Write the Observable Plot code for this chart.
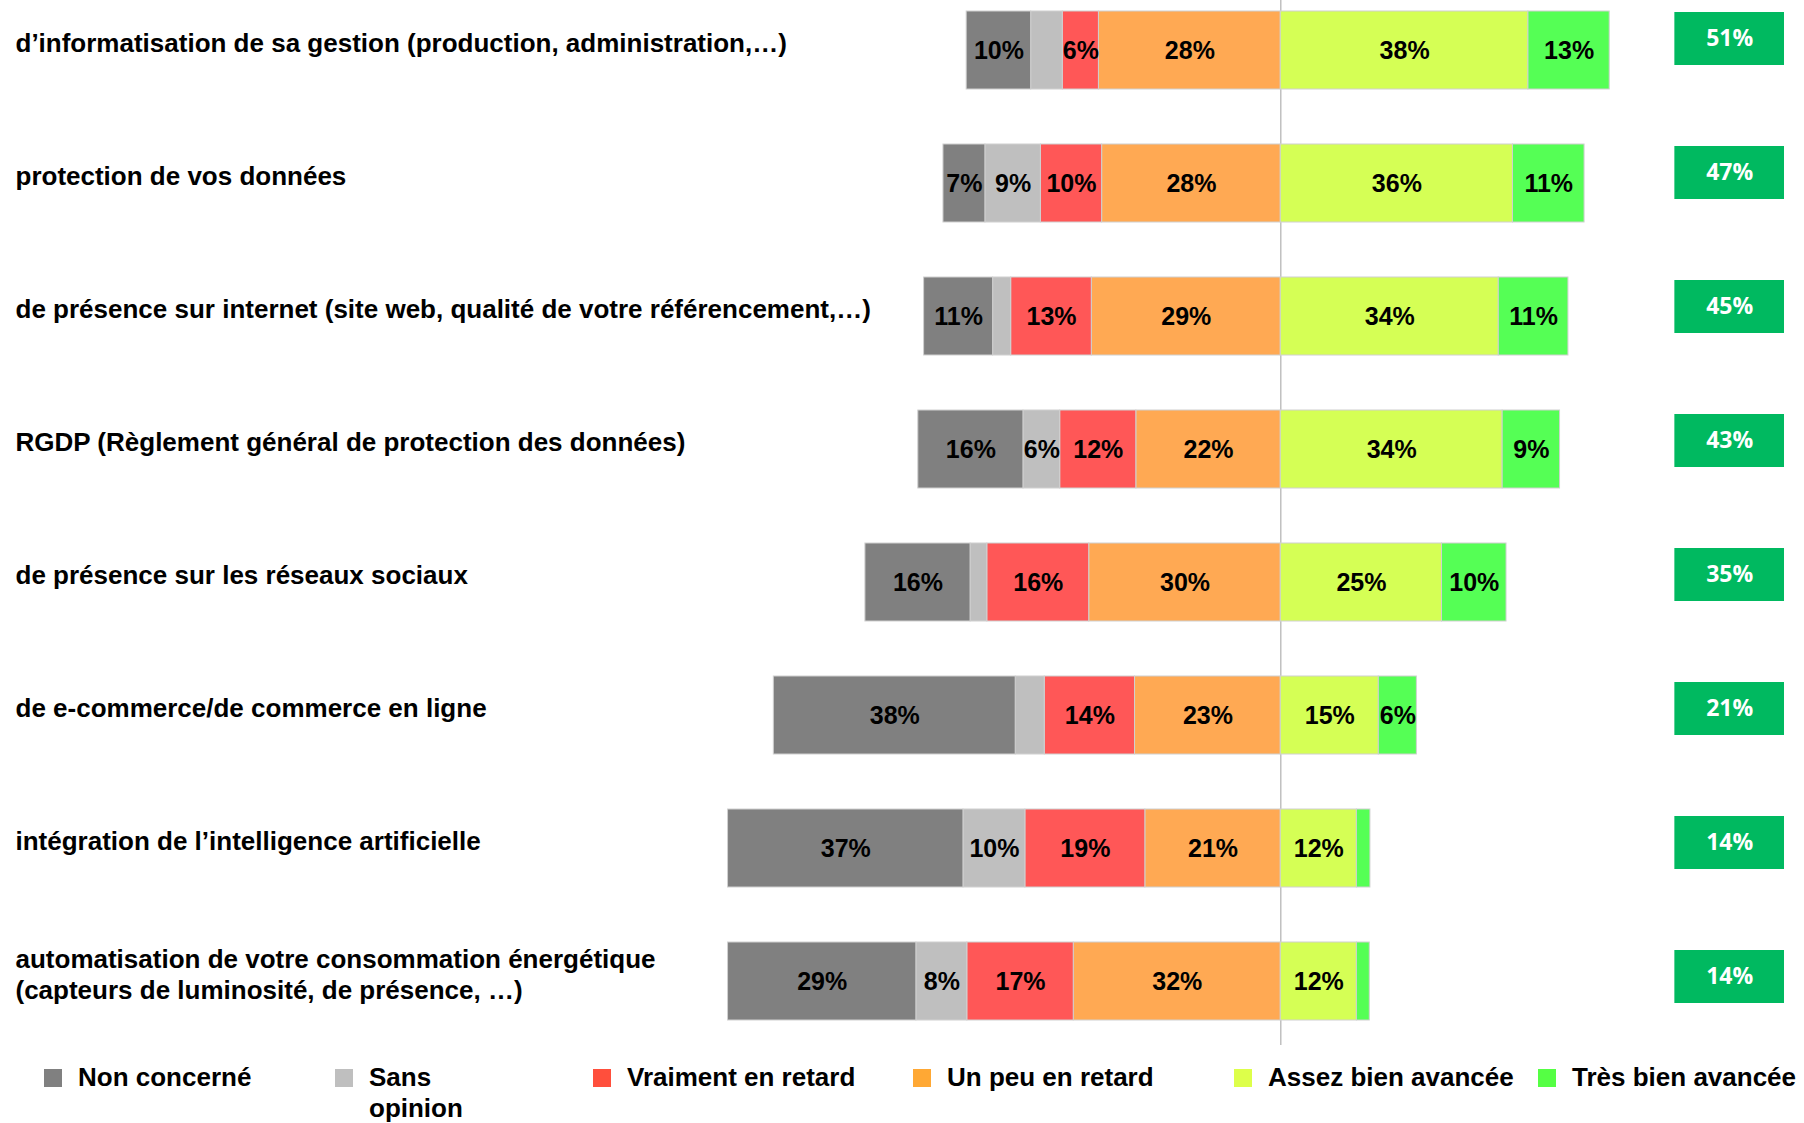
<!DOCTYPE html>
<html><head><meta charset="utf-8">
<script src="https://cdn.jsdelivr.net/npm/d3@7"></script>
<script src="https://cdn.jsdelivr.net/npm/@observablehq/plot@0.6"></script>
<style>
body{margin:0;background:#fff;}
#wrap{position:relative;width:1804px;height:1123px;overflow:hidden;}
#chart{position:absolute;left:0;top:0;}
#totals{position:absolute;left:0;top:0;pointer-events:none;}
#totals svg{background:transparent !important;}
#legend{position:absolute;left:0;top:1050px;width:1804px;height:73px;font:bold 26px "Liberation Sans",Arial,sans-serif;color:#000;}
.sw{position:absolute;top:19px;width:18px;height:18px;}
.lt{position:absolute;top:12px;line-height:31px;white-space:nowrap;}
</style></head>
<body><div id="wrap"><div id="chart"></div><div id="totals"></div><div id="legend"></div></div>
<script>
const categories = [
  "d’informatisation de sa gestion (production, administration,…)",
  "protection de vos données",
  "de présence sur internet (site web, qualité de votre référencement,…)",
  "RGDP (Règlement général de protection des données)",
  "de présence sur les réseaux sociaux",
  "de e-commerce/de commerce en ligne",
  "intégration de l’intelligence artificielle",
  "automatisation de votre consommation énergétique\n(capteurs de luminosité, de présence, …)"
];
const responses = ["Non concerné","Sans opinion","Vraiment en retard","Un peu en retard","Assez bien avancée","Très bien avancée"];
// shares in % (labels show them rounded)
const nonConcerne    = [10.0,  6.5, 10.7, 16.3, 16.3, 37.5, 36.5, 29.2];
const sansOpinion    = [ 4.9,  8.6,  2.8,  5.7,  2.6,  4.5,  9.6,  7.9];
const vraimentRetard = [ 5.6,  9.5, 12.5, 11.8, 15.8, 14.0, 18.6, 16.5];
const unPeuRetard    = [28.2, 27.7, 29.3, 22.4, 29.7, 22.6, 21.0, 32.1];
const assezAvancee   = [38.4, 36.0, 33.8, 34.4, 25.0, 15.2, 11.8, 11.8];
const tresAvancee    = [12.6, 11.1, 10.8,  8.9, 10.0,  5.9,  2.1,  2.0];
const totalAvancee   = [51, 47, 45, 43, 35, 21, 14, 14];
const colors = ["#808080","#BFBFBF","#FF5757","#FFA953","#D5FF55","#55FF55"];
const legendColors = ["#808080","#BFBFBF","#FF4F3C","#FFA834","#DDFF4A","#55FF44"];
const boxColor = "#00B960";

const series = [nonConcerne, sansOpinion, vraimentRetard, unPeuRetard, assezAvancee, tresAvancee];
const segments = [];
categories.forEach((c, i) => {
  let x = 0;
  for (let k = 3; k >= 0; k--) { const v = series[k][i]; segments.push({cat: c, resp: responses[k], value: v, x1: x - v, x2: x}); x -= v; }
  x = 0;
  for (let k = 4; k < 6; k++) { const v = series[k][i]; segments.push({cat: c, resp: responses[k], value: v, x1: x, x2: x + v}); x += v; }
});
const totals = categories.map((c, i) => ({cat: c, v: totalAvancee[i]}));
const BOX = [61.1, 78.1];
const xDomain = [-198.5, 81.2];

const chart = Plot.plot({
  width: 1804, height: 1050,
  marginLeft: 0, marginRight: 0, marginTop: 0, marginBottom: 20,
  style: {fontFamily: "'Liberation Sans', Arial, sans-serif", background: "#fff"},
  x: {domain: xDomain, axis: null},
  y: {domain: categories, paddingInner: 0.414, paddingOuter: 0.078, axis: null},
  color: {domain: responses, range: colors},
  marks: [
    Plot.ruleX([0], {stroke: "#C0C0C0", strokeWidth: 1.5, insetBottom: -15}),
    Plot.barX(segments, {y: "cat", x1: "x1", x2: "x2", fill: "resp", stroke: "#D0D0D0", strokeWidth: 1}),
    Plot.text(segments.filter(d => d.value >= 5.5), {y: "cat", x: d => (d.x1 + d.x2) / 2, text: d => Math.round(d.value) + "%", fontSize: 25, fontWeight: "bold", fill: "#000"}),
    Plot.text(categories, {y: d => d, text: d => d, frameAnchor: "left", textAnchor: "start", dx: 15, dy: -8, fontSize: 26, fontWeight: "bold", lineHeight: 1.19, fill: "#000"})
  ]
});
document.getElementById("chart").appendChild(chart);

// the total column sits on its own slightly different row grid
const totalsPlot = Plot.plot({
  width: 1804, height: 1050,
  marginLeft: 0, marginRight: 0, marginTop: 0, marginBottom: 0,
  style: {background: "transparent"},
  x: {domain: xDomain, axis: null},
  y: {domain: categories, range: [10, 1005], paddingInner: 0.606, paddingOuter: 0, axis: null},
  marks: [
    Plot.barX(totals, {y: "cat", x1: () => BOX[0], x2: () => BOX[1], fill: boxColor}),
    Plot.text(totals, {y: "cat", x: () => (BOX[0] + BOX[1]) / 2, text: d => d.v + "%", fill: "#fff", fontFamily: "'Open Sans', 'DejaVu Sans', sans-serif", fontWeight: "bold", fontSize: 23})
  ]
});
document.getElementById("totals").appendChild(totalsPlot);

const legendX = [44, 335, 593, 913, 1234, 1538];
const legend = document.getElementById("legend");
responses.forEach((r, i) => {
  const sw = document.createElement("div");
  sw.className = "sw"; sw.style.left = legendX[i] + "px"; sw.style.background = legendColors[i];
  legend.appendChild(sw);
  const t = document.createElement("div");
  t.className = "lt"; t.style.left = (legendX[i] + 34) + "px"; t.textContent = r;
  if (i === 1) { t.style.whiteSpace = "normal"; t.style.width = "90px"; }
  legend.appendChild(t);
});
</script>
</body></html>
